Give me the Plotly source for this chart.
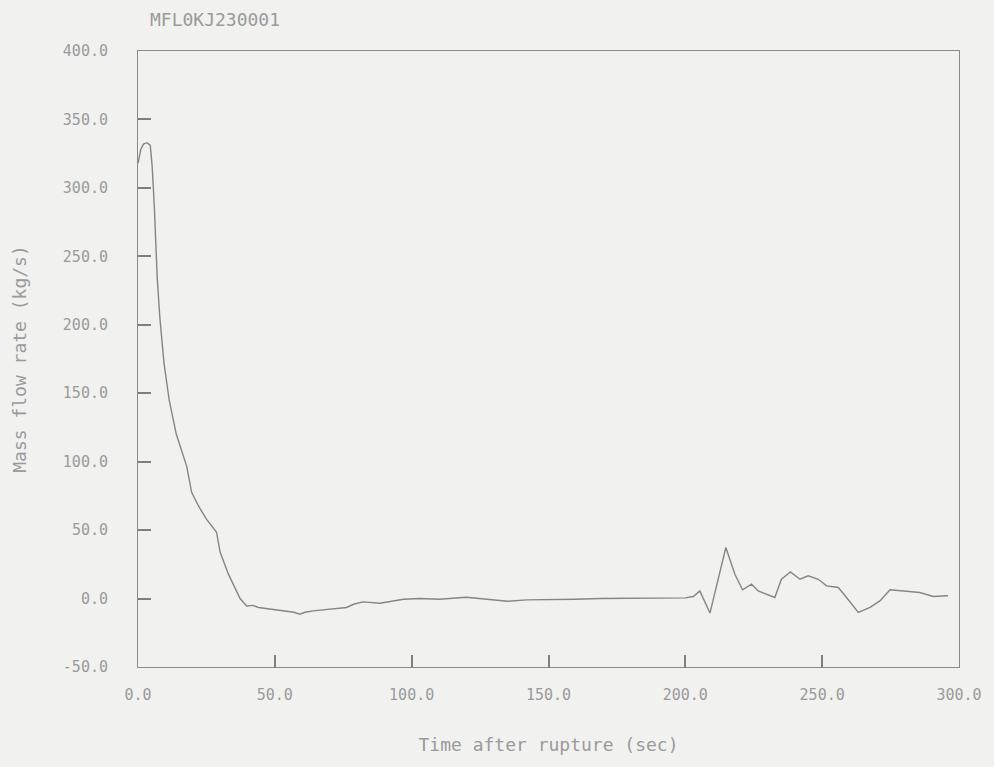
import plotly.graph_objects as go

# Time after rupture (sec)
time_s = [0, 1, 2, 3.3, 4.5, 5.2, 6, 7, 8, 9.5, 11.4, 14, 17.8, 19.6, 22, 25, 28.7, 30,
          33, 37.3, 39.7, 42, 44, 48, 54.3, 57, 59.2, 61, 64, 70, 76.2, 79, 82.3, 88.4,
          92, 97, 103, 110, 120, 125, 135, 142, 150, 160, 168.8, 180, 190, 200, 202.9,
          205.3, 209, 214.8, 218.1, 220.9, 224.2, 226.6, 232.7, 235.1, 238.4, 241.9,
          244.9, 248.6, 251.6, 255.9, 258.9, 263.2, 267.5, 271.1, 274.8, 279.6, 285.7,
          290.6, 296]
# Mass flow rate (kg/s)
mass_flow = [318, 328, 332, 333, 331, 315, 285, 235, 205, 172, 145, 120, 96.6, 77.6, 68, 58,
             48.4, 34, 18, 0, -5.4, -5.0, -6.5, -7.5, -9, -10, -11.4, -10, -9, -8, -6.5,
             -4, -2.4, -3.4, -2, -0.5, 0, -0.5, 1, 0, -2, -1, -1, -0.5, 0, 0, 0.5, 0.5, 1.5,
             5.6, -10.6, 37.3, 17.8, 6.4, 10.5, 5.6, 0.8, 14.1, 19.5, 14.1, 16.6, 14.1,
             9.3, 8.1, 0.8, -10.1, -6.5, -1.7, 6.4, 5.6, 4.4, 1.5, 2]

x_ticks = [0, 50, 100, 150, 200, 250, 300]
x_tick_labels = ["0.0", "50.0", "100.0", "150.0", "200.0", "250.0", "300.0"]
y_ticks = [-50, 0, 50, 100, 150, 200, 250, 300, 350, 400]
y_tick_labels = ["-50.0", "0.0", "50.0", "100.0", "150.0", "200.0", "250.0", "300.0", "350.0", "400.0"]

ink = "#9a9a9a"
axis_ink = "#8a8a8a"
bg = "#f1f1f0"
font_family = "DejaVu Sans Mono"

fig = go.Figure()
fig.add_trace(go.Scatter(x=time_s, y=mass_flow, mode="lines",
                         line=dict(color="#858585", width=1.4), showlegend=False))

fig.update_layout(
    width=994, height=767,
    margin=dict(l=138, r=35, t=51, b=100),
    paper_bgcolor=bg, plot_bgcolor=bg,
    font=dict(family=font_family, size=15, color=ink),
    title=dict(text="MFL0KJ230001", x=150 / 994, xanchor="left", y=1 - 20 / 767,
               yanchor="middle", font=dict(size=18, color=ink)),
)
fig.update_xaxes(
    range=[0, 300], tickvals=x_ticks, ticktext=x_tick_labels,
    ticks="inside", ticklen=12, tickcolor="#7f7f7f", tickwidth=2,
    showline=True, linecolor=axis_ink, linewidth=1, mirror=True,
    showgrid=False, zeroline=False, ticklabelstandoff=14,
    title=dict(text="Time after rupture (sec)", standoff=35, font=dict(size=18, color=ink)),
)
fig.update_yaxes(
    range=[-50, 400], tickvals=y_ticks, ticktext=y_tick_labels,
    ticks="inside", ticklen=13, tickcolor="#7f7f7f", tickwidth=2,
    showline=True, linecolor=axis_ink, linewidth=1, mirror=True,
    showgrid=False, zeroline=False, ticklabelstandoff=26,
    title=dict(text="Mass flow rate (kg/s)", standoff=31, font=dict(size=18, color=ink)),
)

fig.write_html(
    "out.html",
    config={"displayModeBar": False},
    post_script="document.body.style.margin='0';document.body.style.background='" + bg + "';",
)
